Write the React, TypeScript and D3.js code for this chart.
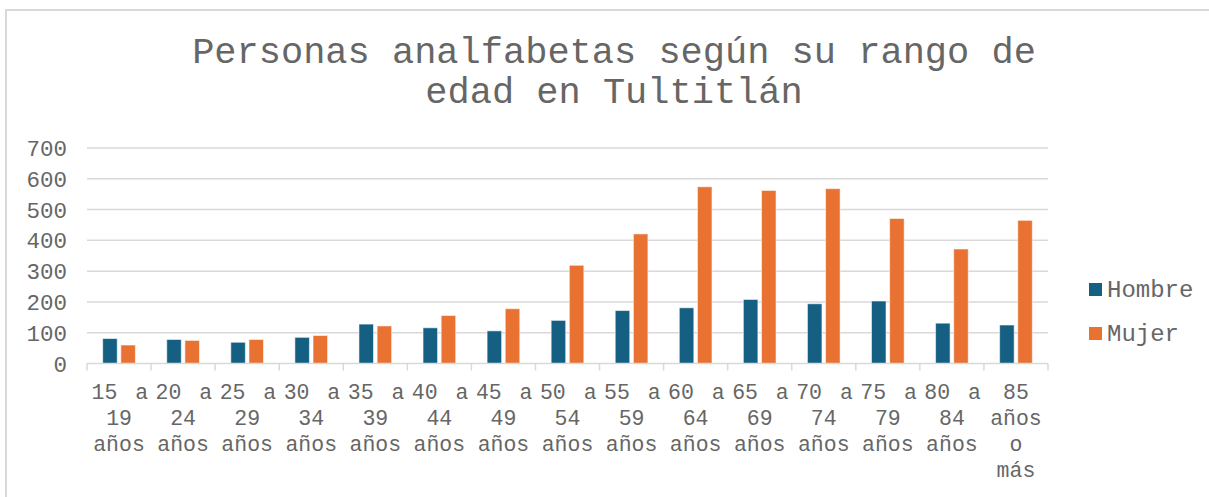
import React, {useEffect, useRef} from "react";
import * as d3 from "d3";

const categories = [
    ["15 a", "19", "años"],
    ["20 a", "24", "años"],
    ["25 a", "29", "años"],
    ["30 a", "34", "años"],
    ["35 a", "39", "años"],
    ["40 a", "44", "años"],
    ["45 a", "49", "años"],
    ["50 a", "54", "años"],
    ["55 a", "59", "años"],
    ["60 a", "64", "años"],
    ["65 a", "69", "años"],
    ["70 a", "74", "años"],
    ["75 a", "79", "años"],
    ["80 a", "84", "años"],
    ["85", "años", "o", "más"],
];
const hombre = [81, 78, 69, 85, 128, 116, 106, 140, 172, 181, 208, 194, 203, 131, 125];
const mujer = [60, 75, 78, 91, 122, 156, 178, 319, 421, 574, 562, 568, 471, 372, 465];
const seriesNames = ["Hombre", "Mujer"];
const seriesColors = ["#156082", "#E97132"];
const yTicks = [0, 100, 200, 300, 400, 500, 600, 700];
const titleLines = ["Personas analfabetas según su rango de", "edad en Tultitlán"];

const W = 1209, H = 497;
const font = "'Courier New', 'Nimbus Mono PS', FreeMono, 'Liberation Mono', monospace";
const textColor = "#666666";
const gridColor = "#d9d9d9";

const Chart = () => {
    const ref = useRef<SVGSVGElement>(null);

    useEffect(() => {
        if (!ref.current) return;
        const svg = d3.select(ref.current);
        svg.selectAll("*").remove();

        const left = 87, right = 1048, top = 148, bottom = 363.5;
        const keys = categories.map((c, i) => String(i));

        // outer frame of the chart area
        svg.append("rect")
            .attr("x", 6).attr("y", 10)
            .attr("width", 1400).attr("height", 700)
            .attr("fill", "#fff")
            .attr("stroke", gridColor)
            .attr("stroke-width", 2);

        // title
        svg.append("text")
            .attr("x", 614)
            .attr("text-anchor", "middle")
            .attr("font-family", font)
            .attr("font-size", 37)
            .attr("fill", textColor)
            .selectAll("tspan")
            .data(titleLines)
            .join("tspan")
            .attr("x", 614)
            .attr("y", (d, i) => 63 + i * 40)
            .text(d => d);

        const x = d3.scaleBand().domain(keys).range([left, right]).padding(0);
        const groupW = x.bandwidth() * 0.51;
        const xInner = d3.scaleBand().domain(seriesNames).range([0, groupW]).paddingInner(0.2);
        const y = d3.scaleLinear().domain([0, 700]).range([bottom, top]);

        // gridlines
        svg.append("g")
            .selectAll("line")
            .data(yTicks.filter(t => t > 0))
            .join("line")
            .attr("x1", left).attr("x2", right)
            .attr("y1", d => y(d)).attr("y2", d => y(d))
            .attr("stroke", gridColor)
            .attr("stroke-width", 1.5);

        // y labels
        svg.append("g")
            .selectAll("text")
            .data(yTicks)
            .join("text")
            .attr("x", 67)
            .attr("y", d => y(d) + 8)
            .attr("text-anchor", "end")
            .attr("font-family", font)
            .attr("font-size", 22.5)
            .attr("fill", textColor)
            .text(d => d);

        // bars
        const series = [hombre, mujer];
        series.forEach((vals, s) => {
            svg.append("g")
                .selectAll("rect")
                .data(vals)
                .join("rect")
                .attr("x", (d, i) => (x(keys[i]) as number) + (x.bandwidth() - groupW) / 2 + (xInner(seriesNames[s]) as number))
                .attr("y", d => y(d))
                .attr("width", xInner.bandwidth())
                .attr("height", d => y(0) - y(d))
                .attr("fill", seriesColors[s])
                .attr("stroke", "#ffffff")
                .attr("stroke-opacity", 0.55)
                .attr("stroke-width", 1);
        });

        // x axis line + ticks
        svg.append("line")
            .attr("x1", left).attr("x2", right)
            .attr("y1", y(0)).attr("y2", y(0))
            .attr("stroke", gridColor)
            .attr("stroke-width", 1.5);
        const tickXs = keys.map(k => x(k) as number).concat([right]);
        svg.append("g")
            .selectAll("line")
            .data(tickXs)
            .join("line")
            .attr("x1", d => d).attr("x2", d => d)
            .attr("y1", y(0)).attr("y2", y(0) + 7)
            .attr("stroke", gridColor)
            .attr("stroke-width", 1.5);

        // x labels (first line justified like Excel)
        const xl = svg.append("g")
            .attr("font-family", font)
            .attr("font-size", 21.5)
            .attr("fill", textColor);
        categories.forEach((lines, i) => {
            const x0 = x(keys[i]) as number;
            const x1 = x0 + x.bandwidth();
            const cx = x0 + x.bandwidth() / 2;
            lines.forEach((line, j) => {
                const by = 399 + j * 26;
                const words = line.split(" ");
                if (j === 0 && words.length > 1) {
                    xl.append("text").attr("x", x0 + 4.5).attr("y", by).attr("text-anchor", "start").text(words[0]);
                    xl.append("text").attr("x", x1 - 3).attr("y", by).attr("text-anchor", "end").text(words[words.length - 1]);
                } else {
                    xl.append("text").attr("x", cx).attr("y", by).attr("text-anchor", "middle").text(line);
                }
            });
        });

        // legend
        const lg = svg.append("g");
        seriesNames.forEach((name, i) => {
            lg.append("rect")
                .attr("x", 1089).attr("y", 283 + i * 44)
                .attr("width", 13).attr("height", 13)
                .attr("fill", seriesColors[i]);
            lg.append("text")
                .attr("x", 1107).attr("y", 297 + i * 44)
                .attr("font-family", font)
                .attr("font-size", 24)
                .attr("fill", textColor)
                .text(name);
        });
    }, []);

    return (
        <svg ref={ref} width={W} height={H} style={{position: "absolute", left: 0, top: 0, background: "#fff"}}></svg>
    );
};

export default function App() {
    return <Chart />;
}
